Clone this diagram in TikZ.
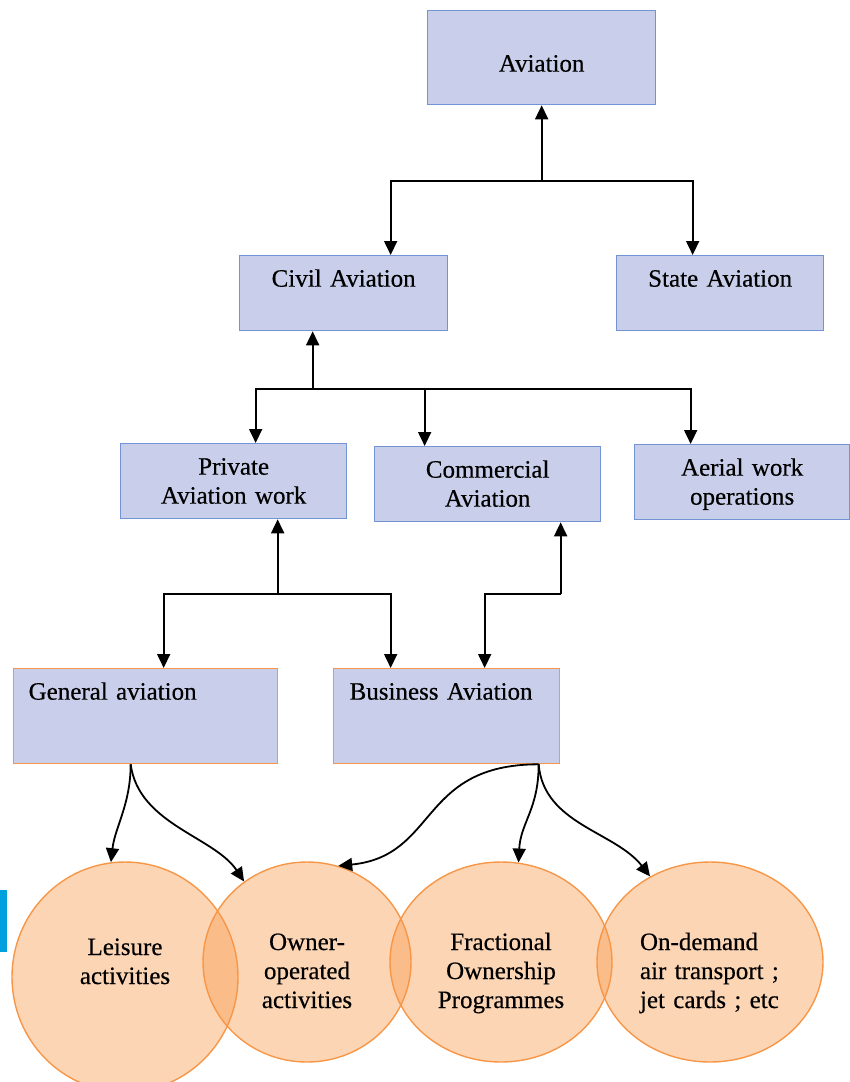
\documentclass[tikz,border=0pt]{standalone}
\usepackage{fontspec}
\setmainfont{Liberation Serif}[FakeBold=0.4]
\usetikzlibrary{arrows.meta,calc,shapes.geometric}
\definecolor{boxfill}{RGB}{201,207,234}
\definecolor{boxline}{RGB}{114,147,212}
\definecolor{actline}{RGB}{247,150,70}
\definecolor{markcyan}{RGB}{0,160,222}

\begin{document}
\begin{tikzpicture}[
  x=1pt, y=-1pt,
  font=\fontsize{25}{29}\selectfont,
  cat/.style={draw=boxline, line width=1.3pt, fill=boxfill, inner sep=0pt, anchor=north west,
    align=center, text height=31pt, text depth=44pt},
  kind/.style={draw=actline, line width=1.3pt, fill=boxfill, inner ysep=0pt, inner xsep=15pt,
    anchor=north west, align=left, text height=31pt, text depth=64pt},
  act/.style={ellipse, draw=actline, line width=1.4pt, fill=actline, fill opacity=0.4,
    draw opacity=1, text opacity=1, inner sep=0pt, align=center, text width=130pt,
    text height=24pt, text depth=48pt},
  flow/.style={-{Triangle[length=14pt, width=13pt]}, line width=1.8pt}
]
\useasboundingbox (0,0) rectangle (850,1082);

% category boxes
\node[cat, text width=228pt, text height=61pt, text depth=33pt] (aviation) at (427,10) {Aviation};
\node[cat, text width=208pt] (civil) at (239,255) {Civil Aviation};
\node[cat, text width=207pt] (state) at (616,255) {State Aviation};
\node[cat, text width=226pt] (private) at (120,443) {Private\\Aviation work};
\node[cat, text width=226pt] (commercial) at (374,446) {Commercial\\Aviation};
\node[cat, text width=215pt] (aerial) at (634,444) {Aerial work\\operations};
\node[kind, text width=234pt] (general) at (13,668) {General aviation};
\node[kind, text width=194pt, inner xsep=16pt] (business) at (333,668) {Business Aviation};

% activities
\node[act, minimum width=226pt, minimum height=230pt, text height=20pt, text depth=64pt]
  (leisure) at (125,977) {Leisure\\activities};
\node[act, minimum width=208pt, minimum height=200pt] (owner) at (307,962) {Owner-\\operated\\activities};
\node[act, minimum width=222pt, minimum height=200pt] (fractional) at (501,962) {Fractional\\Ownership\\Programmes};
\node[act, minimum width=226pt, minimum height=200pt, align=left, text width=140pt]
  (ondemand) at (710,962) {On-demand\\air transport ;\\jet cards ; etc};

\fill[markcyan] (0,890) rectangle (7,952);

% tree connectors
\coordinate (avj) at ($(aviation.south)+(0,76)$);
\draw[flow] (avj) -- (aviation);
\draw[flow] (avj) -| ([xshift=47pt]civil.north);
\draw[flow] (avj) -| ([xshift=-27.5pt]state.north);

\coordinate (cvj) at ([shift={(-31,58)}]civil.south);
\draw[flow] (cvj) -- ([xshift=-31pt]civil.south);
\draw[flow] (cvj) -| ([xshift=22pt]private.north);
\draw[flow] (cvj) -| ([xshift=-63pt]commercial.north);
\draw[flow] (cvj) -| ([xshift=-51.5pt]aerial.north);

\coordinate (pvj) at ([shift={(44,75)}]private.south);
\draw[flow] (pvj) -- ([xshift=44pt]private.south);
\draw[flow] (pvj) -| ([xshift=18pt]general.north);
\draw[flow] (pvj) -| ([xshift=-56pt]business.north);

\coordinate (cmj) at ([shift={(73,72)}]commercial.south);
\draw[flow] (cmj) -- ([xshift=73pt]commercial.south);
\draw[flow] (cmj) -| ([xshift=38pt]business.north);

% curved links to activities
\draw[flow] ([xshift=-15pt]general.south) .. controls +(0,40) and +(4,-35) .. (leisure.97);
\draw[flow] ([xshift=-15pt]general.south) .. controls +(8,60) and +(-30,-45) .. (owner.128);
\draw[flow] ([xshift=92pt]business.south) .. controls +(-120,0) and +(100,-10) .. (owner.72);
\draw[flow] ([xshift=92pt]business.south) .. controls +(0,45) and +(2,-40) .. (fractional.80);
\draw[flow] ([xshift=92pt]business.south) .. controls +(5,60) and +(-35,-45) .. (ondemand.125);
\end{tikzpicture}
\end{document}
